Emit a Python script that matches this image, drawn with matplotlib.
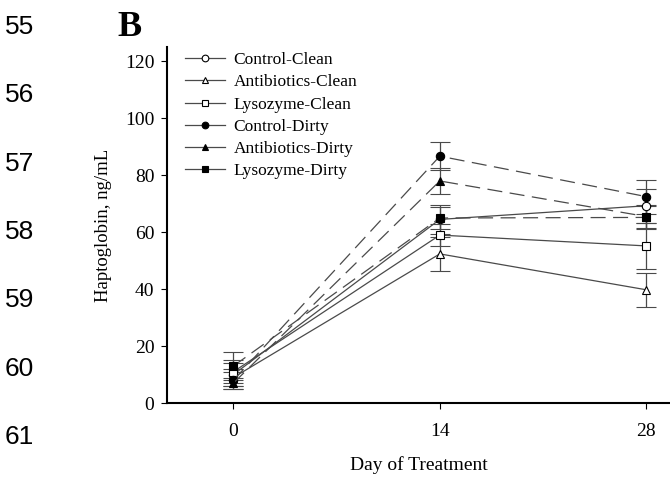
import matplotlib
matplotlib.use('Agg')
import matplotlib.pyplot as plt

plt.rcParams['font.family'] = ['Liberation Serif', 'DejaVu Serif']

days = [0, 14, 28]
names = ['Control-Clean', 'Antibiotics-Clean', 'Lysozyme-Clean',
         'Control-Dirty', 'Antibiotics-Dirty', 'Lysozyme-Dirty']
means = [
    [10, 64.5, 69.3],
    [9, 52.4, 39.8],
    [11, 59.0, 55.2],
    [8, 86.7, 72.5],
    [7, 78.0, 65.5],
    [13, 65.0, 65.2],
]
errs = [
    [4, 5, 6],
    [3, 6, 6],
    [4, 4, 8],
    [3, 5, 6],
    [2, 4.6, 4],
    [5, 4, 4],
]
markers = ['o', '^', 's', 'o', '^', 's']
filled = [False, False, False, True, True, True]
line_nums = ['55', '56', '57', '58', '59', '60', '61']

fig = plt.figure(figsize=(6.7, 4.8), dpi=100)
ax = fig.add_axes([0.249, 0.160, 0.751, 0.742])

for i in range(len(names)):
    ls = (0, (12, 6)) if filled[i] else '-'
    ax.errorbar(days, means[i], yerr=errs[i], color='#4a4a4a', lw=0.9, ls=ls,
                marker=markers[i], ms=6,
                mfc='black' if filled[i] else 'white', mec='black', mew=0.8,
                ecolor='#4a4a4a', elinewidth=0.9, capsize=7, capthick=0.9,
                label=names[i])

ax.set_xlim(-4.5, 29.6)
ax.set_ylim(0, 125)
ax.set_xticks(days)
ax.set_yticks(range(0, 121, 20))
ax.spines['top'].set_visible(False)
ax.spines['right'].set_visible(False)
ax.spines['left'].set_linewidth(1.5)
ax.spines['bottom'].set_linewidth(1.5)
ax.tick_params(labelsize=14, length=4, width=0.8)
ax.tick_params(axis='x', pad=10)
ax.tick_params(axis='y', pad=5)
ax.set_xlabel('Day of Treatment', fontsize=14, labelpad=12)
ax.set_ylabel('Haptoglobin, ng/mL', fontsize=13.5, labelpad=9)

handles, labels = ax.get_legend_handles_labels()
leg = ax.legend([h[0] for h in handles], labels, loc='upper left', frameon=False,
                fontsize=12.5, handlelength=2.3, handletextpad=0.5,
                labelspacing=0.35, bbox_to_anchor=(0.005, 1.03), markerscale=0.8)
for line in leg.get_lines():
    line.set_linestyle('-')

fig.text(0.176, 0.925, 'B', fontsize=26, fontweight='bold')
for k, t in enumerate(line_nums):
    fig.text(0.007, 0.944 - k * 0.1425, t, fontsize=19, family='Liberation Sans',
             va='center')

fig.savefig('out.png', dpi=100)
